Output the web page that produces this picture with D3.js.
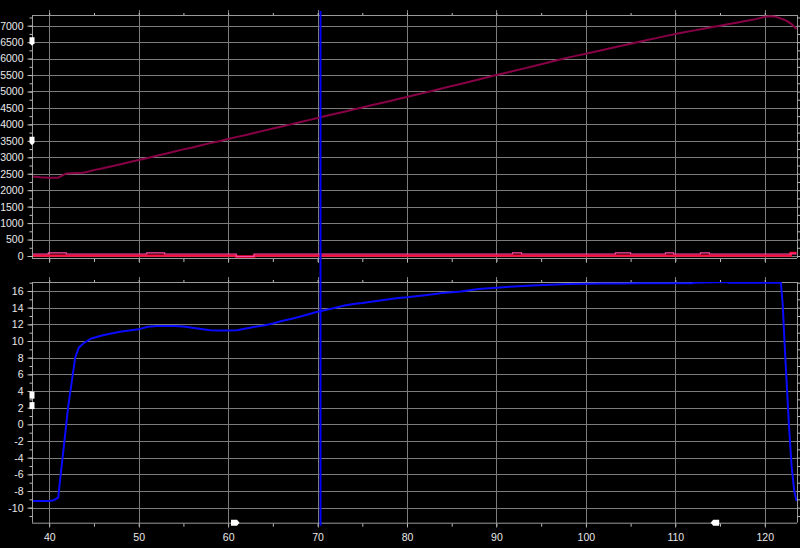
<!DOCTYPE html>
<html><head><meta charset="utf-8">
<script src="https://cdn.jsdelivr.net/npm/d3@7"></script>
<style>
html,body{margin:0;padding:0;background:#000;}
svg{display:block;}
text{font-family:"Liberation Sans",Arial,sans-serif;font-size:10.5px;fill:#e8e8e8;}
</style></head>
<body>
<svg id="c" width="800" height="548"></svg>
<script>
// ---------- data ----------
const xTicks = [40,50,60,70,80,90,100,110,120];
const topTicks = [0,500,1000,1500,2000,2500,3000,3500,4000,4500,5000,5500,6000,6500,7000];
const botTicks = [-10,-8,-6,-4,-2,0,2,4,6,8,10,12,14,16];

// top panel : main (maroon) series
const topX = [38.07,39,40,41,41.9,43,43.8,45,46,47,48,49,50,51,52,53,54,55,56,57,58,59,60,61,62,63,64,65,66,67,68,69,70,71,72,73,74,75,76,77,78,79,80,81,82,83,84,85,86,87,88,89,90,91,92,93,94,95,96,97,98,99,100,101,102,103,104,105,106,107,108,109,110,111,112,113,114,115,116,117,118,119,120,120.6,121.2,122,122.5,123,123.55];
const topV = [2420,2395,2380,2380,2510,2520,2530,2610,2670,2730,2790,2855,2920,2980,3045,3110,3175,3240,3300,3365,3430,3490,3555,3620,3680,3745,3810,3875,3935,4000,4065,4130,4195,4260,4325,4385,4450,4515,4580,4640,4705,4770,4835,4900,4965,5030,5100,5165,5230,5295,5365,5430,5500,5565,5630,5695,5760,5830,5895,5965,6030,6090,6150,6210,6270,6330,6390,6450,6510,6570,6630,6690,6745,6800,6850,6900,6950,7000,7050,7100,7150,7200,7270,7290,7275,7200,7140,7050,6900];

// top panel : pink series near zero (step)
const pinkX = [38.07,39.9,41.9,50.9,52.9,60.9,62.9,91.8,92.8,103.3,105,108.9,109.8,112.8,113.8,123.55];
const pinkV = [60,95,60,95,60,-15,60,95,60,95,60,95,60,95,60,60];

// top panel : red series at zero (step)
const redX = [38.07,60.9,62.9,122.9,123.55];
const redV = [12,-15,12,95,95];

// bottom panel : blue series
const botX = [38.07,39,40,40.5,41.0,41.3,41.6,41.9,42.1,42.5,42.9,43.3,43.8,44.7,46,47.9,50,51,52,53,54,55,56,57,58,59,60,61,62,63,64,65,66,67,68,69,70,71,72,73,74,75,76,77,78,79,80,82,84,86,88,90,92,94,96,98,100,102,104,106,108,110,111.9,112,114.6,115.8,116,118,120,121.8,122.0,122.3,122.7,123.0,123.3,123.55];
const botV = [-9.2,-9.2,-9.2,-9.1,-8.8,-5.8,-2.9,0,2,5,8,9.2,9.7,10.3,10.7,11.1,11.4,11.7,11.8,11.8,11.8,11.75,11.6,11.45,11.3,11.25,11.25,11.3,11.5,11.7,11.85,12.1,12.4,12.65,12.9,13.2,13.5,13.75,14,14.25,14.45,14.55,14.7,14.85,15,15.15,15.25,15.5,15.75,15.95,16.25,16.4,16.55,16.65,16.75,16.85,16.88,16.9,16.9,16.92,16.92,16.92,16.92,17.0,17.05,17.05,17.0,17.0,17.0,17.0,14.5,8,0,-5,-8,-9.2];

const cursorX = [70.33];
const topMarkers = [6530,3500];
const botMarkers = [3.5,2.25];
const axisMarkers = [60.77,114.46];

// ---------- layout ----------
const L = 32, R = 797;
const T1 = 15, B1 = 258, T2 = 282, B2 = 522.7;
const gridCol = "#7c7c7c", axisCol = "#9a9a9a", tickCol = "#bdbdbd";
const fmt = d => String(d);

const svg = d3.select("#c");
svg.append("rect").attr("width",800).attr("height",548).attr("fill","#000");

const x = d3.scaleLinear().domain([38.07,123.55]).range([L,796.5]);
const yT = d3.scaleLinear().domain([-61,7325]).range([B1,T1]);
const yB = d3.scaleLinear().domain([-11.8,17.08]).range([B2,T2]);

function panel(y, top, bottom, ticks, minorStep, g){
  g.selectAll("line.hg").data(ticks).enter().append("line")
    .attr("x1",L).attr("x2",R).attr("y1",d=>Math.round(y(d))+0.5).attr("y2",d=>Math.round(y(d))+0.5)
    .attr("stroke",gridCol).attr("stroke-width",1);
  g.selectAll("line.vg").data(xTicks).enter().append("line")
    .attr("x1",d=>Math.round(x(d))+0.5).attr("x2",d=>Math.round(x(d))+0.5)
    .attr("y1",top-5).attr("y2",bottom+5)
    .attr("stroke",gridCol).attr("stroke-width",1);
  g.append("line").attr("x1",L).attr("x2",R).attr("y1",top+0.5).attr("y2",top+0.5).attr("stroke",axisCol);
  g.append("line").attr("x1",L).attr("x2",R).attr("y1",bottom+0.5).attr("y2",bottom+0.5).attr("stroke",axisCol);
  g.append("line").attr("x1",L+0.5).attr("x2",L+0.5).attr("y1",top).attr("y2",bottom).attr("stroke",axisCol);
  g.append("line").attr("x1",R+0.5).attr("x2",R+0.5).attr("y1",top).attr("y2",bottom).attr("stroke",axisCol);
  const d0 = y.domain();
  const minor = d3.range(Math.ceil(d0[0]/minorStep)*minorStep, d0[1], minorStep);
  const ax = d3.axisLeft(y).tickValues(minor).tickSize(3).tickFormat("");
  const ga = g.append("g").attr("transform",`translate(${L+0.5},0)`).call(ax);
  ga.select(".domain").remove();
  ga.selectAll("line").attr("stroke",tickCol);
  const axM = d3.axisLeft(y).tickValues(ticks).tickSize(5).tickPadding(3).tickFormat(fmt);
  const gm = g.append("g").attr("transform",`translate(${L+0.5},0)`).call(axM);
  gm.select(".domain").remove();
  gm.selectAll("line").attr("stroke",tickCol);
  gm.selectAll("text").attr("x",-9).style("font-size","10.5px").attr("fill","#e8e8e8");
  const ar = d3.axisRight(y).tickValues(minor).tickSize(3).tickFormat("");
  const gr = g.append("g").attr("transform",`translate(${R+0.5},0)`).call(ar);
  gr.select(".domain").remove(); gr.selectAll("line").attr("stroke",tickCol);
  const xmin = d3.range(40,124,5);
  const at = d3.axisTop(x).tickValues(xmin).tickSize(2).tickFormat("");
  const gt = g.append("g").attr("transform",`translate(0,${top})`).call(at);
  gt.select(".domain").remove(); gt.selectAll("line").attr("stroke",tickCol);
  const ab = d3.axisBottom(x).tickValues(xmin).tickSize(3).tickFormat("");
  const gb = g.append("g").attr("transform",`translate(0,${bottom+1})`).call(ab);
  gb.select(".domain").remove(); gb.selectAll("line").attr("stroke",tickCol);
}

const g1 = svg.append("g"), g2 = svg.append("g");
panel(yT, T1, B1, topTicks, 250, g1);
panel(yB, T2, B2, botTicks, 1, g2);

const axB = d3.axisBottom(x).tickValues(xTicks).tickSize(0).tickPadding(11).tickFormat(fmt);
const gxb = svg.append("g").attr("transform",`translate(0,${B2})`).call(axB);
gxb.select(".domain").remove();
gxb.selectAll("text").style("font-size","10.5px").attr("fill","#e8e8e8");

const defs = svg.append("defs");
defs.append("clipPath").attr("id","cp1").append("rect").attr("x",L+1).attr("y",T1).attr("width",R-L-1).attr("height",B1-T1+1);
defs.append("clipPath").attr("id","cp2").append("rect").attr("x",L+1).attr("y",T2).attr("width",R-L-1).attr("height",B2-T2+1);

const lineTop = d3.line().x((d,i)=>x(topX[i])).y(d=>yT(d));
svg.append("path").attr("clip-path","url(#cp1)").datum(topV).attr("d",lineTop)
  .attr("fill","none").attr("stroke","#880046").attr("stroke-width",2);

const lineRed = d3.line().curve(d3.curveStepAfter).x((d,i)=>x(redX[i])).y(d=>yT(d));
svg.append("path").attr("clip-path","url(#cp1)").datum(redV).attr("d",lineRed)
  .attr("fill","none").attr("stroke","#ff0a3a").attr("stroke-width",2.4);
const linePink = d3.line().curve(d3.curveStepAfter).x((d,i)=>x(pinkX[i])).y(d=>yT(d));
svg.append("path").attr("clip-path","url(#cp1)").datum(pinkV).attr("d",linePink)
  .attr("fill","none").attr("stroke","#ff4aa8").attr("stroke-width",1.2);

const lineBot = d3.line().x((d,i)=>x(botX[i])).y(d=>yB(d));
svg.append("path").attr("clip-path","url(#cp2)").datum(botV).attr("d",lineBot)
  .attr("fill","none").attr("stroke","#0a0aff").attr("stroke-width",2);

svg.selectAll("line.cur").data(cursorX).enter().append("line")
  .attr("x1",d=>x(d)).attr("x2",d=>x(d)).attr("y1",T1-4).attr("y2",B2+3)
  .attr("stroke","#0000ff").attr("stroke-width",2);

function vMarker(cx, cy){
  return `M${cx-2.5},${cy-4} h5 v6 l-2.5,2.5 l-2.5,-2.5 Z`;
}
svg.selectAll("path.tm").data(topMarkers).enter().append("path")
  .attr("d",d=>vMarker(L,yT(d))).attr("fill","#fff");
svg.selectAll("path.bm").data(botMarkers).enter().append("path")
  .attr("d",d=>`M${L-2.5},${yB(d)-3.5} h5 v7 h-5 Z`).attr("fill","#fff");
svg.selectAll("path.am").data(axisMarkers).enter().append("path")
  .attr("d",(d,i)=>{const cx=x(d), cy=B2; return i===0
     ? `M${cx-4},${cy-3} h6 l2.5,3 l-2.5,3 h-6 Z`
     : `M${cx+4},${cy-3} h-6 l-2.5,3 l2.5,3 h6 Z`;}).attr("fill","#fff");
</script>
</body></html>
